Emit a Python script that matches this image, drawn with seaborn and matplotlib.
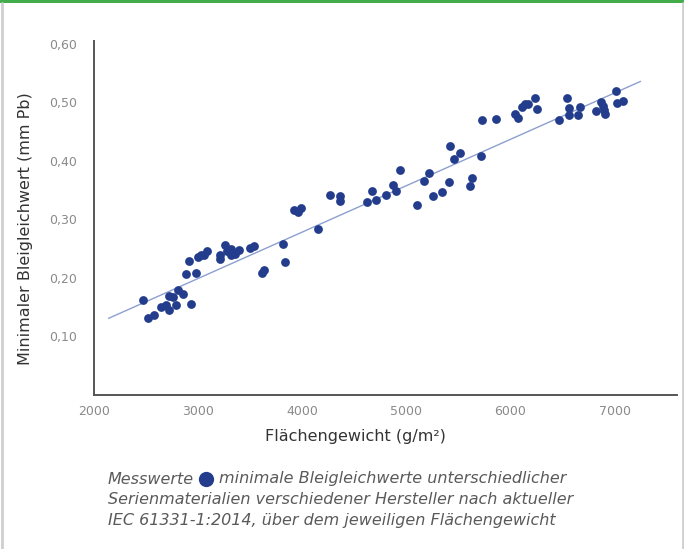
import numpy as np
import pandas as pd
import matplotlib
matplotlib.use("Agg")
import matplotlib.pyplot as plt
import seaborn as sns
from matplotlib.lines import Line2D
from matplotlib.patches import Rectangle

# Flächengewicht (g/m²) und minimaler Bleigleichwert (mm Pb)
weight = [2474, 2519, 2574, 2644, 2692, 2724, 2718, 2762, 2788, 2811,
          2856, 2930, 2888, 2911, 2978, 2997, 3029, 3061, 3089, 3209,
          3214, 3257, 3279, 3317, 3317, 3356, 3397, 3503, 3538, 3612,
          3632, 3817, 3830, 3920, 3959, 3990, 4151, 4266, 4359, 4363,
          4618, 4670, 4712, 4808, 4872, 4897, 4942, 5103, 5166, 5221,
          5260, 5339, 5411, 5423, 5462, 5513, 5613, 5632, 5721, 5731,
          5863, 6041, 6074, 6113, 6138, 6170, 6234, 6253, 6465, 6545,
          6561, 6567, 6651, 6673, 6824, 6872, 6885, 6900, 6910, 7013,
          7019, 7083]
lead = [0.163, 0.131, 0.136, 0.150, 0.154, 0.146, 0.169, 0.168, 0.154, 0.179,
        0.173, 0.155, 0.207, 0.229, 0.209, 0.235, 0.240, 0.239, 0.246, 0.239,
        0.233, 0.256, 0.246, 0.249, 0.239, 0.241, 0.247, 0.251, 0.255, 0.208,
        0.214, 0.258, 0.228, 0.317, 0.312, 0.320, 0.283, 0.342, 0.340, 0.332,
        0.329, 0.349, 0.334, 0.342, 0.359, 0.348, 0.384, 0.325, 0.365, 0.379,
        0.340, 0.347, 0.364, 0.425, 0.403, 0.413, 0.357, 0.371, 0.408, 0.470,
        0.471, 0.480, 0.473, 0.493, 0.497, 0.498, 0.507, 0.488, 0.470, 0.508,
        0.490, 0.478, 0.478, 0.492, 0.486, 0.500, 0.494, 0.487, 0.481, 0.520,
        0.499, 0.502]
trend_weight = [2140, 7250]
trend_lead = [0.131, 0.536]
x_ticks = [2000, 3000, 4000, 5000, 6000, 7000]
y_ticks = [0.1, 0.2, 0.3, 0.4, 0.5, 0.6]
y_tick_labels = ["0,10", "0,20", "0,30", "0,40", "0,50", "0,60"]

df = pd.DataFrame({"Flächengewicht": weight, "Bleigleichwert": lead})
trend = pd.DataFrame({"Flächengewicht": trend_weight, "Bleigleichwert": trend_lead})

DOT = "#233D8C"
TREND = "#8C9FD0"
GREY = "#8A8A8A"

sns.set_theme(style="white")
plt.rcParams['font.family'] = ['DejaVu Sans']

fig = plt.figure(figsize=(6.84, 5.49), dpi=100)
ax = fig.add_axes([94 / 684, 154 / 549, 583 / 684, 354 / 549])

sns.lineplot(data=trend, x="Flächengewicht", y="Bleigleichwert", color=TREND,
             lw=1.0, ax=ax, zorder=2)
sns.scatterplot(data=df, x="Flächengewicht", y="Bleigleichwert", color=DOT,
                s=40, linewidth=0, ax=ax, zorder=3)

ax.set_xlim(2000, 7600)
ax.set_ylim(0, 0.605)
ax.set_xticks(x_ticks)
ax.set_yticks(y_ticks)
ax.set_yticklabels(y_tick_labels)
ax.tick_params(axis='both', length=0, labelsize=9, colors=GREY)
ax.tick_params(axis='y', pad=12)
ax.tick_params(axis='x', pad=7)

for side in ["top", "right"]:
    ax.spines[side].set_visible(False)
for side in ["left", "bottom"]:
    ax.spines[side].set_color("#555555")
    ax.spines[side].set_linewidth(1.4)

ax.set_xlabel("Flächengewicht (g/m²)", fontsize=11.5, color="#333333")
ax.set_ylabel("Minimaler Bleigleichwert (mm Pb)", fontsize=11.5, color="#333333")
ax.xaxis.set_label_coords(0.448, -0.095)
ax.yaxis.set_label_coords(-0.104, 0.47)

# Rahmen: grüner Balken oben, graue Seitenlinien
fig.add_artist(Rectangle((0, 1 - 3 / 549), 1, 3 / 549, transform=fig.transFigure,
                         facecolor="#44AD4B", edgecolor="none"))
fig.add_artist(Line2D([1.5 / 684, 1.5 / 684], [0, 1 - 3 / 549], transform=fig.transFigure,
                      color="#CFCFCF", lw=2))
fig.add_artist(Line2D([682.5 / 684, 682.5 / 684], [0, 1 - 3 / 549], transform=fig.transFigure,
                      color="#CFCFCF", lw=2))

# Bildunterschrift
cap = dict(fontsize=11.5, style='italic', color="#5A5A5A", va='center', ha='left')
x0 = 108 / 684
t1 = fig.text(x0, 1 - 479 / 549, "Messwerte", **cap)
fig.canvas.draw()
bb = t1.get_window_extent()
dot_x = (bb.x1 + 12) / 684
fig.add_artist(Line2D([dot_x], [1 - 479 / 549], transform=fig.transFigure, marker='o',
                      markersize=11, color=DOT, markeredgewidth=0, linestyle='none'))
fig.text((bb.x1 + 25) / 684, 1 - 479 / 549, "minimale Bleigleichwerte unterschiedlicher", **cap)
fig.text(x0, 1 - 500 / 549, "Serienmaterialien verschiedener Hersteller nach aktueller", **cap)
fig.text(x0, 1 - 521 / 549, "IEC 61331-1:2014, über dem jeweiligen Flächengewicht", **cap)

fig.savefig("out.png", dpi=100)
